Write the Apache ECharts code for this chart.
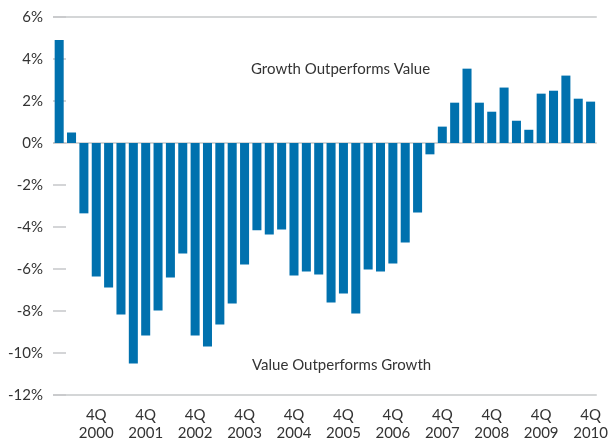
<!DOCTYPE html>
<html>
<head>
<meta charset="utf-8">
<script src="https://cdn.jsdelivr.net/npm/echarts@6/dist/echarts.min.js"></script>
<style>
html,body{margin:0;padding:0;background:#fff;}
#chart{width:611px;height:444px;}
</style>
</head>
<body>
<div id="chart"></div>
<script>
var quarters = [
  '1Q 2000','2Q 2000','3Q 2000','4Q 2000',
  '1Q 2001','2Q 2001','3Q 2001','4Q 2001',
  '1Q 2002','2Q 2002','3Q 2002','4Q 2002',
  '1Q 2003','2Q 2003','3Q 2003','4Q 2003',
  '1Q 2004','2Q 2004','3Q 2004','4Q 2004',
  '1Q 2005','2Q 2005','3Q 2005','4Q 2005',
  '1Q 2006','2Q 2006','3Q 2006','4Q 2006',
  '1Q 2007','2Q 2007','3Q 2007','4Q 2007',
  '1Q 2008','2Q 2008','3Q 2008','4Q 2008',
  '1Q 2009','2Q 2009','3Q 2009','4Q 2009',
  '1Q 2010','2Q 2010','3Q 2010','4Q 2010'
];
var growthMinusValue = [
  4.9, 0.5, -3.35, -6.36,
  -6.88, -8.17, -10.5, -9.17,
  -7.98, -6.4, -5.26, -9.17,
  -9.69, -8.64, -7.64, -5.79,
  -4.16, -4.36, -4.12, -6.31,
  -6.12, -6.26, -7.6, -7.17,
  -8.12, -6.02, -6.12, -5.74,
  -4.74, -3.31, -0.54, 0.78,
  1.92, 3.54, 1.92, 1.49,
  2.64, 1.06, 0.63, 2.35,
  2.49, 3.21, 2.11, 1.97
];
var yTicks = { min: -12, max: 6, step: 2 };
var annotationTop = 'Growth Outperforms Value';
var annotationBottom = 'Value Outperforms Growth';

var FONT = 'Lato, sans-serif';
var TEXT = '#333333';
var LINE = '#c6c8ca';

var chart = echarts.init(document.getElementById('chart'), null, {renderer: 'canvas'});
chart.setOption({
  animation: false,
  backgroundColor: '#ffffff',
  grid: { left: 53, right: 14, top: 17, bottom: 49, containLabel: false },
  xAxis: {
    type: 'category',
    data: quarters,
    axisLine: { show: false },
    axisTick: { show: false },
    axisLabel: {
      interval: function (i) { return i % 4 === 3; },
      formatter: function (v) { var p = v.split(' '); return p[0] + '\n' + p[1]; },
      color: TEXT, fontFamily: FONT, fontSize: 15, lineHeight: 18, margin: 11
    },
    splitLine: { show: false }
  },
  yAxis: {
    type: 'value',
    min: yTicks.min, max: yTicks.max, interval: yTicks.step,
    axisLine: { show: false },
    axisTick: { show: true, inside: true, length: 13, lineStyle: { color: LINE, width: 1.5 } },
    axisLabel: {
      formatter: function (v) { return v + '%'; },
      color: TEXT, fontFamily: FONT, fontSize: 15, margin: 10
    },
    splitLine: {
      show: true,
      lineStyle: {
        width: 1.5,
        color: [LINE, 'rgba(0,0,0,0)', 'rgba(0,0,0,0)', 'rgba(0,0,0,0)', 'rgba(0,0,0,0)', 'rgba(0,0,0,0)', LINE, 'rgba(0,0,0,0)', 'rgba(0,0,0,0)', LINE]
      }
    }
  },
  series: [{
    type: 'bar',
    data: growthMinusValue,
    barCategoryGap: '27%',
    itemStyle: { color: '#0071ae' },
    z: 1
  }],
  graphic: [
    { type: 'text', left: 251, top: 62, style: { text: annotationTop, fill: TEXT, font: '15px ' + FONT } },
    { type: 'text', left: 252, top: 358, style: { text: annotationBottom, fill: TEXT, font: '15px ' + FONT } }
  ]
});
</script>
</body>
</html>
